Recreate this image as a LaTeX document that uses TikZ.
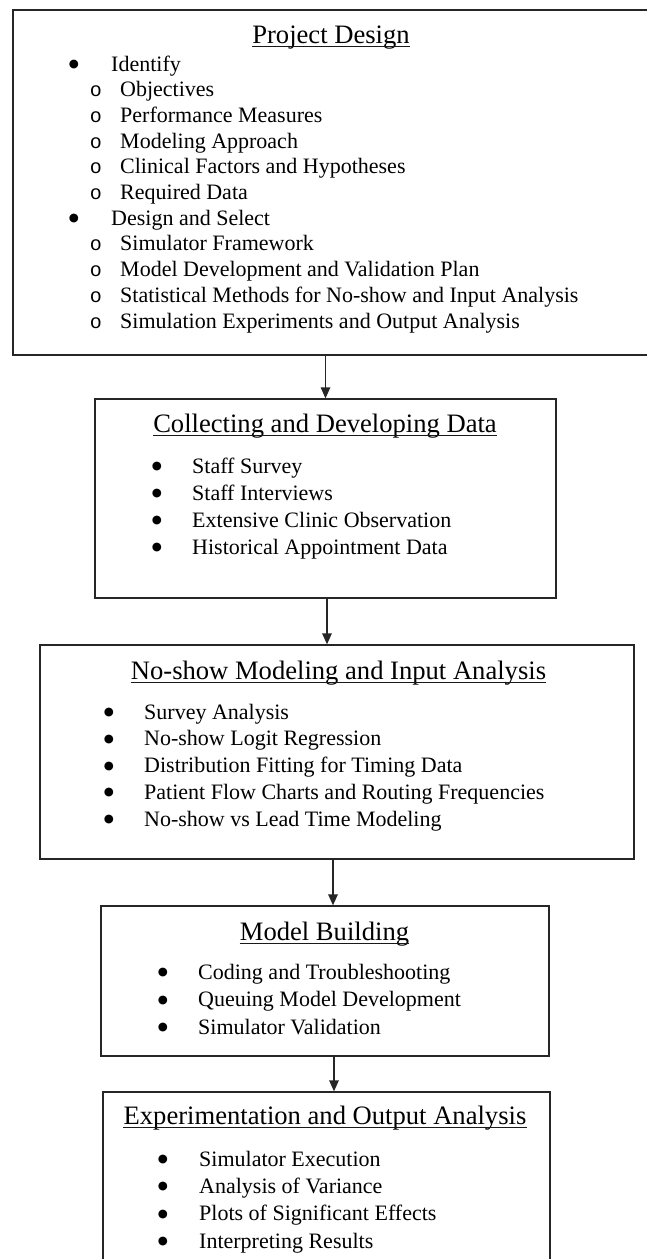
\documentclass[tikz,border=0pt]{standalone}
\usepackage{fontspec}
\setmainfont{Liberation Serif}
\newfontfamily\monof{Liberation Mono}
\newfontfamily\dejav{DejaVu Sans}
\usetikzlibrary{arrows.meta}
\newcommand{\bl}{●}
\begin{document}
\begin{tikzpicture}[x=1pt,y=-1pt,
 box/.style={draw=black!85, line width=1.3pt, inner sep=0pt},
 ttl/.style={anchor=base, inner sep=0pt, font=\fontsize{26.6}{30}\selectfont},
 itm/.style={anchor=base west, inner sep=0pt, font=\fontsize{22}{26}\selectfont},
 bul/.style={anchor=base, inner sep=0pt, yshift=3.5pt, font=\dejav\fontsize{11.5}{13}\selectfont},
 subb/.style={anchor=base, inner sep=0pt, font=\monof\fontsize{20}{26}\selectfont},
 arr/.style={line width=1.3pt, draw=black!85, -{Triangle[length=11pt,width=9.5pt]}},
 ul/.style={line width=1.2pt, draw=black!90}]
\useasboundingbox (0,0) rectangle (647,1259);

% boxes
\node[box, minimum width=640pt, minimum height=345pt] (b1) at (333,182.5) {};
\node[box, minimum width=461pt, minimum height=199pt] (b2) at (325.5,498.5) {};
\node[box, minimum width=594pt, minimum height=214pt] (b3) at (337,752) {};
\node[box, minimum width=448pt, minimum height=150pt] (b4) at (325,981) {};
\node[box, minimum width=447pt, minimum height=180pt] (b5) at (326.5,1182) {};

% box 1
\node[ttl] (t1) at (331,43) {Project Design};
\node[bul] (p1) at (74,71) {\bl};   \node[itm] (q1) at (111,71) {Identify};
\node[subb] (p2) at (96,96.7) {o}; \node[itm] (q2) at (120,96.7) {Objectives};
\node[subb] (p3) at (96,122.4) {o}; \node[itm] (q3) at (120,122.4) {Performance Measures};
\node[subb] (p4) at (96,148.1) {o}; \node[itm] (q4) at (120,148.1) {Modeling Approach};
\node[subb] (p5) at (96,173.8) {o}; \node[itm] (q5) at (120,173.8) {Clinical Factors and Hypotheses};
\node[subb] (p6) at (96,199.5) {o}; \node[itm] (q6) at (120,199.5) {Required Data};
\node[bul] (p7) at (74,225.2) {\bl};   \node[itm] (q7) at (111,225.2) {Design and Select};
\node[subb] (p8) at (96,250.9) {o}; \node[itm] (q8) at (120,250.9) {Simulator Framework};
\node[subb] (p9) at (96,276.6) {o}; \node[itm] (q9) at (120,276.6) {Model Development and Validation Plan};
\node[subb] (p10) at (96,302.3) {o}; \node[itm] (q10) at (120,302.3) {Statistical Methods for No-show and Input Analysis};
\node[subb] (p11) at (96,328) {o}; \node[itm] (q11) at (120,328) {Simulation Experiments and Output Analysis};

% box 2
\node[ttl] (t2) at (325,432) {Collecting and Developing Data};
\foreach \y/\s [count=\i] in {473/Staff Survey, 500/Staff Interviews, 527/Extensive Clinic Observation, 554/Historical Appointment Data}{
  \node[bul] (c\i) at (157,\y) {\bl};
  \node[itm] (d\i) at (192,\y) {\s};
}

% box 3
\node[ttl] (t3) at (338.5,679) {No-show Modeling and Input Analysis};
\foreach \y/\s [count=\i] in {719/Survey Analysis, 745.75/No-show Logit Regression, 772.5/Distribution Fitting for Timing Data, 799.25/Patient Flow Charts and Routing Frequencies, 826/No-show vs Lead Time Modeling}{
  \node[bul] (e\i) at (109,\y) {\bl};
  \node[itm] (f\i) at (144,\y) {\s};
}

% box 4
\node[ttl] (t4) at (324.5,940) {Model Building};
\foreach \y/\s [count=\i] in {979/Coding and Troubleshooting, 1006.5/Queuing Model Development, 1034/Simulator Validation}{
  \node[bul] (g\i) at (163,\y) {\bl};
  \node[itm] (h\i) at (198,\y) {\s};
}

% box 5
\node[ttl] (t5) at (325,1124) {Experimentation and Output Analysis};
\foreach \y/\s [count=\i] in {1166/Simulator Execution, 1193.3/Analysis of Variance, 1220.6/Plots of Significant Effects, 1248/Interpreting Results}{
  \node[bul] (m\i) at (163,\y) {\bl};
  \node[itm] (n\i) at (199,\y) {\s};
}

% underlines
\foreach \t in {t1,t2,t3,t4,t5}{
  \draw[ul] ([yshift=-3.5pt]\t.base west) -- ([yshift=-3.5pt]\t.base east);
}

% arrows
\draw[arr] (b1.south -| b2.north) -- (b2.north);
\draw[arr] ([xshift=1.5pt]b2.south) -- ([xshift=1.5pt]b2.south |- b3.north);
\draw[arr] ([xshift=-4pt]b3.south) -- ([xshift=-4pt]b3.south |- b4.north);
\draw[arr] ([xshift=9pt]b4.south) -- ([xshift=9pt]b4.south |- b5.north);
\end{tikzpicture}
\end{document}
